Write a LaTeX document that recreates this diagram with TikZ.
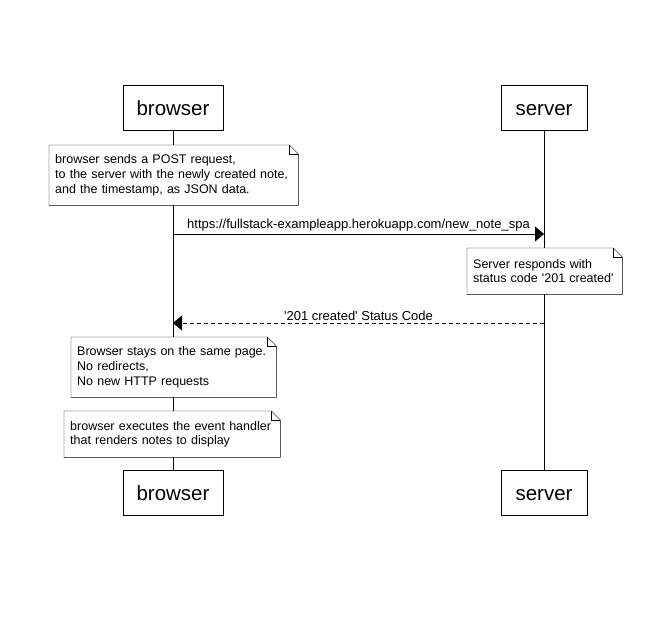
\documentclass[tikz,border=0pt]{standalone}
\usepackage{fontspec}
\setmainfont{Liberation Sans}
\usetikzlibrary{arrows.meta}
\newcommand{\noteframe}[1]{%
	\draw (#1.south west) -- (#1.north west) -- ([xshift=-9pt]#1.north east) -- ([yshift=-9pt]#1.north east) -- (#1.south east) -- cycle;
	\draw ([xshift=-9pt]#1.north east) |- ([yshift=-9pt]#1.north east);
}
\begin{document}
\begin{tikzpicture}[x=1pt,y=-1pt,
		actor/.style={draw,fill=white,minimum height=45pt,inner sep=0pt,text height=20pt,text depth=4pt,font=\fontsize{20.5}{24}\selectfont},
		note/.style={fill=white,anchor=north west,align=left,inner xsep=6pt,inner ysep=9.5pt,font=\fontsize{12.5}{14.6}\selectfont},
		msg/.style={-{Triangle[length=9pt,width=15pt]}},
		reply/.style={msg,dash pattern=on 4pt off 3pt},
		label/.style={above,yshift=-1pt,font=\fontsize{13}{15}\selectfont}]
	\useasboundingbox[fill=white] (0,0) rectangle (669,618);
	\node[actor,minimum width=100pt] (browser-top) at (173,107.5) {browser};
	\node[actor,minimum width=86pt] (server-top) at (544,107.5) {server};
	\node[actor,minimum width=100pt] (browser-bot) at (173,492.5) {browser};
	\node[actor,minimum width=86pt] (server-bot) at (544,492.5) {server};
	\draw (browser-top) -- (browser-bot);
	\draw (server-top) -- (server-bot);
	\node[note,text width=237pt,minimum height=60pt] (post-note) at (49,145) {browser sends a POST request,\\to the server with the newly created note,\\and the timestamp, as JSON data.};
	\node[note,text width=143pt,minimum height=46pt] (resp-note) at (467,248) {Server responds with\\status code \textquotesingle201 created\textquotesingle};
	\node[note,text width=193pt,minimum height=60pt] (stay-note) at (71,337) {Browser stays on the same page.\\No redirects,\\No new HTTP requests};
	\node[note,text width=204pt,minimum height=46pt] (render-note) at (64,411) {browser executes the event handler\\that renders notes to display};
	\noteframe{post-note}
	\noteframe{resp-note}
	\noteframe{stay-note}
	\noteframe{render-note}
	\coordinate (req-from) at (173,234);
	\coordinate (req-to) at (544,234);
	\coordinate (ack-from) at (544,323);
	\coordinate (ack-to) at (173,323);
	\draw[msg] (req-from) -- node[label] {https://fullstack-exampleapp.herokuapp.com/new\_note\_spa} (req-to);
	\draw[reply] (ack-from) -- node[label] {\textquotesingle201 created\textquotesingle{} Status Code} (ack-to);
\end{tikzpicture}
\end{document}
